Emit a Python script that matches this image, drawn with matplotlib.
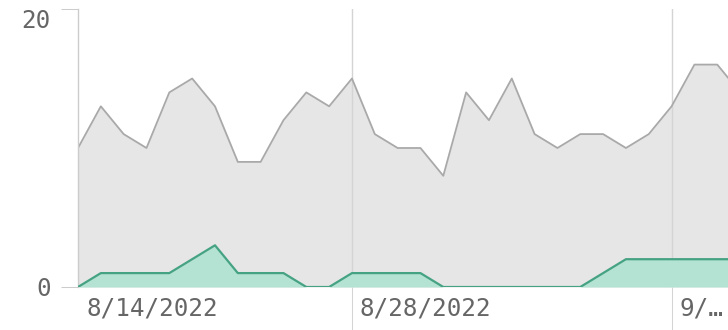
import numpy as np
import pandas as pd
import matplotlib
matplotlib.use("Agg")
import matplotlib.pyplot as plt
import matplotlib.transforms as mtransforms

# daily counts
dates = pd.date_range("2022-08-16", periods=30, freq="D")
total = [10, 13, 11, 10, 14, 15, 13, 9, 9, 12,
         14, 13, 15, 11, 10, 10, 8, 14, 12, 15,
         11, 10, 11, 11, 10, 11, 13, 16, 16, 14]
subset = [0, 1, 1, 1, 1, 2, 3, 1, 1, 1,
          0, 0, 1, 1, 1, 1, 0, 0, 0, 0,
          0, 0, 0, 1, 2, 2, 2, 2, 2, 2]

tick_dates = pd.to_datetime(["2022-08-28", "2022-09-11"])
tick_labels = ["8/28/2022", "9/…"]
first_label = "8/14/2022"
y_ticks = [0, 20]

plt.rcParams["font.family"] = ["DejaVu Sans Mono"]
text_color = "#666666"
axis_color = "#cccccc"
fsize = 17.5

W, H, DPI = 728, 330, 100
fig = plt.figure(figsize=(W / DPI, H / DPI), dpi=DPI)
ax = fig.add_axes([78 / W, 43 / H, 650 / W, 278 / H])

ax.fill_between(dates, total, 0, color="#e6e6e6", linewidth=0, zorder=1)
ax.plot(dates, total, color="#a9a9a9", linewidth=1.3, zorder=2)
ax.fill_between(dates, subset, 0, color="#b5e3d3", linewidth=0, zorder=3)
ax.plot(dates, subset, color="#45a383", linewidth=1.6, zorder=4)

ax.set_xlim(dates[0], dates[0] + pd.Timedelta(days=28.47))
ax.set_ylim(0, 20)

for s in ("top", "right", "bottom"):
    ax.spines[s].set_visible(False)
ax.spines["left"].set_color(axis_color)
ax.spines["left"].set_linewidth(1)

# x axis: vertical rules that run down through the label area
ax.set_xticks(tick_dates)
ax.set_xticklabels(tick_labels)
ax.grid(axis="x", color="#d4d4d4", linewidth=1, zorder=0)
ax.tick_params(axis="x", length=31, width=0.75, color="#d4d4d4",
               pad=-24, labelsize=fsize, labelcolor=text_color)
shift = mtransforms.ScaledTranslation(8 / DPI, 0, fig.dpi_scale_trans)
for lab in ax.get_xticklabels():
    lab.set_horizontalalignment("left")
    lab.set_transform(lab.get_transform() + shift)

ax.annotate(first_label, xy=(0, 0), xycoords="axes fraction",
            xytext=(8, -10), textcoords="offset pixels",
            ha="left", va="top", fontsize=fsize, color=text_color)

# y axis
ax.set_yticks(y_ticks)
ax.set_yticklabels([str(v) for v in y_ticks])
ax.tick_params(axis="y", length=12.5, width=0.75, color=axis_color,
               pad=7, labelsize=fsize, labelcolor=text_color)
ax.get_yticklabels()[-1].set_verticalalignment("top")

fig.savefig("out.png", dpi=DPI)
